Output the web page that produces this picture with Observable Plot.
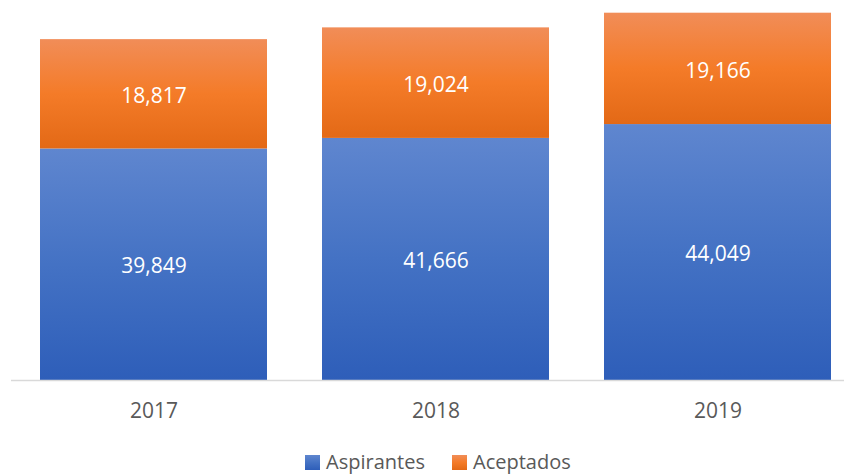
<!DOCTYPE html>
<html>
<head>
<meta charset="utf-8">
<script src="https://cdn.jsdelivr.net/npm/d3@7"></script>
<script src="https://cdn.jsdelivr.net/npm/@observablehq/plot@0.6"></script>
<style>
  html, body { margin: 0; padding: 0; background: #fff; }
  body { width: 844px; height: 476px; overflow: hidden; font-family: "Open Sans", sans-serif; }
  #legend { position: relative; height: 36px; font-size: 20px; color: #595959; }
  .item { position: absolute; top: 10px; height: 24px; display: flex; align-items: center; }
  .sw { width: 15px; height: 15px; margin-right: 6px; }
  .lbl { line-height: 24px; }
</style>
</head>
<body>
<svg width="0" height="0" style="position:absolute">
  <defs>
    <linearGradient id="gBlue" x1="0" y1="0" x2="0" y2="1">
      <stop offset="0" stop-color="#5f86cf"/>
      <stop offset="0.5" stop-color="#4472c4"/>
      <stop offset="1" stop-color="#2e5eb9"/>
    </linearGradient>
    <linearGradient id="gOrange" x1="0" y1="0" x2="0" y2="1">
      <stop offset="0" stop-color="#f18d58"/>
      <stop offset="0.5" stop-color="#f47b28"/>
      <stop offset="1" stop-color="#e36916"/>
    </linearGradient>
  </defs>
</svg>
<div id="chart"></div>
<div id="legend"></div>
<script>
const years = ["2017", "2018", "2019"];
const seriesNames = ["Aspirantes", "Aceptados"];
const aspirantes = [39849, 41666, 44049];
const aceptados = [18817, 19024, 19166];

const data = [];
years.forEach((yr, i) => {
  data.push({year: yr, series: seriesNames[0], value: aspirantes[i]});
  data.push({year: yr, series: seriesNames[1], value: aceptados[i]});
});

const fmt = d3.format(",");
const fills = ["url(#gBlue)", "url(#gOrange)"];

const chart = Plot.plot({
  width: 844,
  height: 440,
  marginTop: 0,
  marginBottom: 60,
  marginLeft: 11,
  marginRight: 0,
  style: {fontFamily: "Open Sans, sans-serif", background: "#fff"},
  x: {domain: years, range: [11.25, 858.75], paddingInner: 0.1965, paddingOuter: 0.098, align: 0.5, label: null},
  y: {domain: [0, 65400], axis: null},
  color: {domain: seriesNames, range: fills},
  marks: [
    Plot.barY(data, {x: "year", y: "value", fill: "series", order: seriesNames}),
    Plot.ruleY([0], {stroke: "#d9d9d9", strokeWidth: 1.5}),
    Plot.text(data, Plot.stackY({x: "year", y: "value", z: "series", order: seriesNames,
      text: d => fmt(d.value), fill: "white", fontSize: 21, dy: 2})),
    Plot.axisX({tickSize: 0, tickPadding: 23, fontSize: 21, color: "#595959", label: null})
  ]
});
document.getElementById("chart").appendChild(chart);

const legend = document.getElementById("legend");
const legendLeft = [305, 452];
seriesNames.forEach((name, i) => {
  const item = document.createElement("div");
  item.className = "item";
  item.style.left = legendLeft[i] + "px";
  const sw = document.createElementNS("http://www.w3.org/2000/svg", "svg");
  sw.setAttribute("class", "sw");
  sw.setAttribute("width", "15");
  sw.setAttribute("height", "15");
  const r = document.createElementNS("http://www.w3.org/2000/svg", "rect");
  r.setAttribute("width", "15");
  r.setAttribute("height", "15");
  r.setAttribute("fill", fills[i]);
  sw.appendChild(r);
  const t = document.createElement("span");
  t.className = "lbl";
  t.textContent = name;
  item.appendChild(sw);
  item.appendChild(t);
  legend.appendChild(item);
});
</script>
</body>
</html>
